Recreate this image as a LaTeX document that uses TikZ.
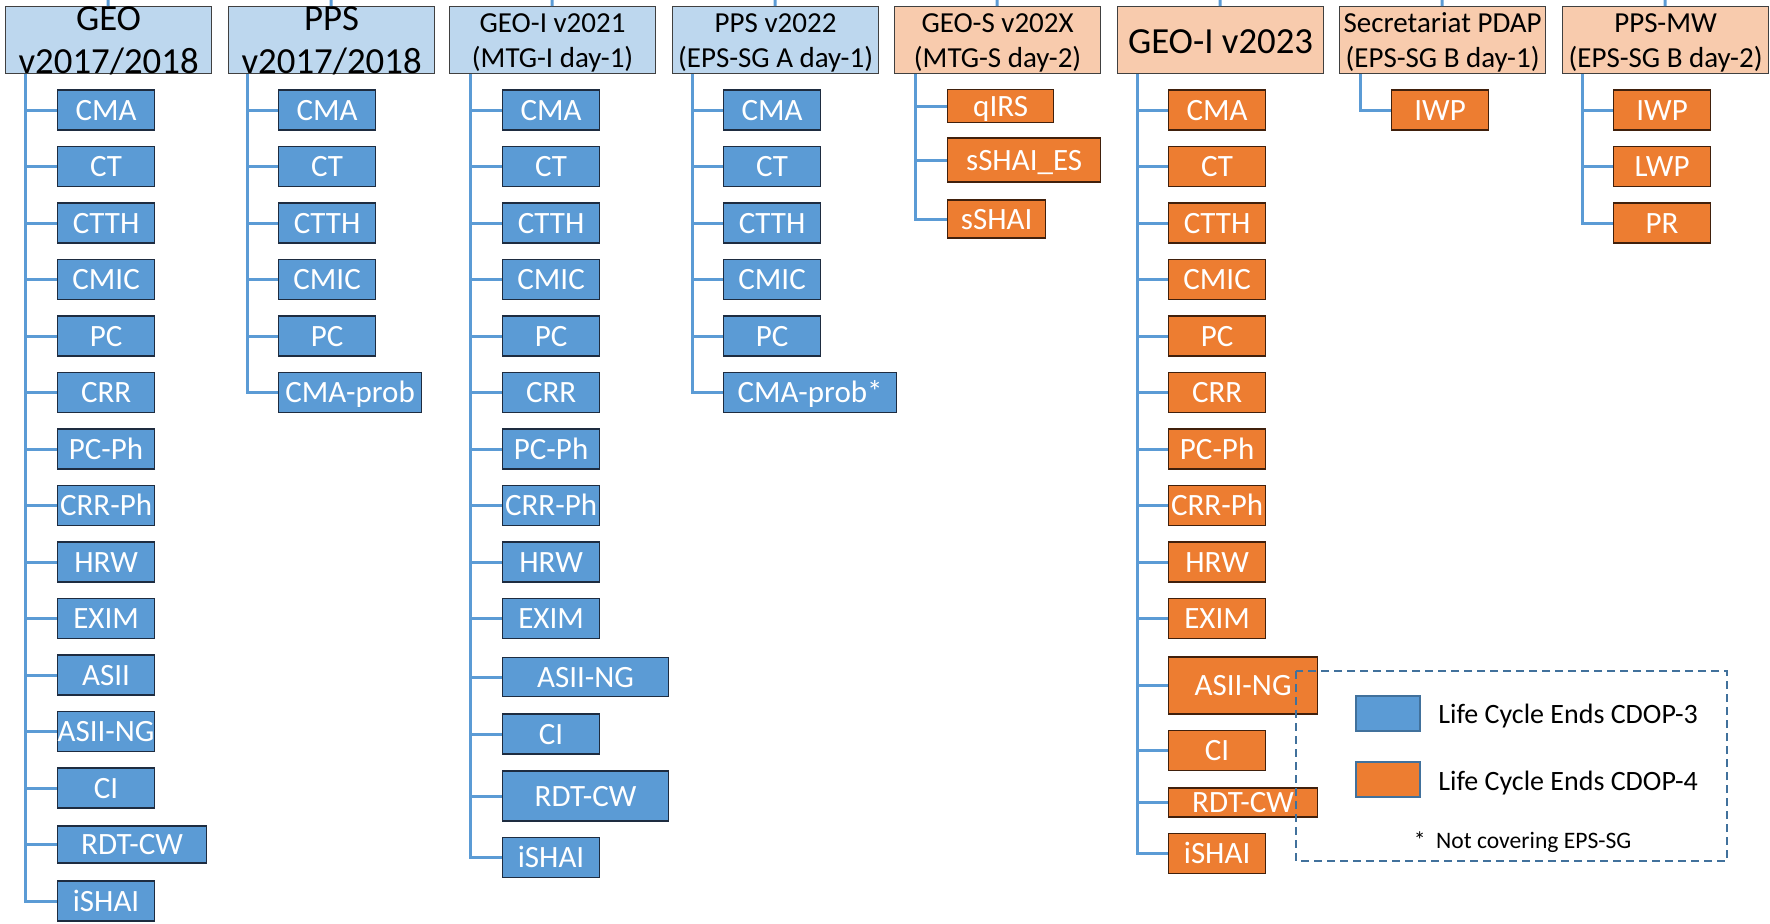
\documentclass[tikz,border=0pt]{standalone}
\usepackage{fontspec}
\setmainfont{Carlito}
\definecolor{linkblue}{HTML}{5B9BD5}
\definecolor{headblue}{HTML}{BDD7EE}
\definecolor{headorange}{HTML}{F8CBAD}
\definecolor{headedge}{HTML}{404040}
\definecolor{itemblue}{HTML}{5B9BD5}
\definecolor{itemorange}{HTML}{ED7D31}
\definecolor{blueedge}{HTML}{1E2C40}
\definecolor{orangeedge}{HTML}{40200C}
\definecolor{keyedge}{HTML}{41719C}
\tikzset{
  link/.style={draw=linkblue, line width=1.5pt},
  head/.style={draw=headedge, line width=0.6pt, anchor=north west, inner sep=0pt,
    minimum width=103pt, minimum height=33.5pt, align=center,
    font=\fontsize{14.5}{17.5}\selectfont, text height=30.5pt, text depth=3pt},
  headbig/.style={font=\fontsize{18.4}{21.5}\selectfont, text height=33.5pt, text depth=0pt},
  headone/.style={font=\fontsize{18.4}{21.5}\selectfont, text height=23.5pt, text depth=10pt},
  oldhead/.style={head, fill=headblue},
  newhead/.style={head, fill=headorange},
  item/.style={line width=0.6pt, text=white, anchor=west, inner sep=0pt,
    minimum width=48.5pt, minimum height=20pt, text height=10pt, text depth=0pt,
    font=\fontsize{15.5}{18}\selectfont},
  olditem/.style={item, draw=blueedge, fill=itemblue},
  newitem/.style={item, draw=orangeedge, fill=itemorange},
  keybox/.style={draw=keyedge, line width=1pt, anchor=west, inner sep=0pt,
    minimum width=32pt, minimum height=17.5pt},
  keytext/.style={anchor=base west, inner sep=0pt, font=\fontsize{14}{17}\selectfont},
}
\begin{document}
\begin{tikzpicture}[x=0.5pt, y=-0.5pt]
        \useasboundingbox (0,0) rectangle (1770,923);
        % headers
        \node[oldhead, headbig] (geoA) at (5,6) {GEO\\v2017/2018};
        \node[oldhead, headbig] (ppsA) at (228,6) {PPS\\v2017/2018};
        \node[oldhead] (geoI21) at (449,6) {GEO-I v2021\\(MTG-I day-1)};
        \node[oldhead] (pps22) at (672,6) {PPS v2022\\(EPS-SG A day-1)};
        \node[newhead] (geoS) at (894,6) {GEO-S v202X\\(MTG-S day-2)};
        \node[newhead, headone] (geoI23) at (1117,6) {GEO-I v2023};
        \node[newhead] (pdap) at (1339,6) {Secretariat PDAP\\(EPS-SG B day-1)};
        \node[newhead] (ppsmw) at (1562,6) {PPS-MW\\(EPS-SG B day-2)};
        \coordinate (geoA-top) at (108,0);
        \coordinate (ppsA-top) at (331,0);
        \coordinate (geoI21-top) at (552,0);
        \coordinate (pps22-top) at (775,0);
        \coordinate (geoS-top) at (997,0);
        \coordinate (geoI23-top) at (1220,0);
        \coordinate (pdap-top) at (1442,0);
        \coordinate (ppsmw-top) at (1665,0);
        \draw[link] (geoA-top) -- (geoA);
        \draw[link] (ppsA-top) -- (ppsA);
        \draw[link] (geoI21-top) -- (geoI21);
        \draw[link] (pps22-top) -- (pps22);
        \draw[link] (geoS-top) -- (geoS);
        \draw[link] (geoI23-top) -- (geoI23);
        \draw[link] (pdap-top) -- (pdap);
        \draw[link] (ppsmw-top) -- (ppsmw);
        % GEO v2017/2018
        \node[olditem] (geoA-CMA) at (57,110) {CMA};
        \node[olditem] (geoA-CT) at (57,166.5) {CT};
        \node[olditem] (geoA-CTTH) at (57,223) {CTTH};
        \node[olditem] (geoA-CMIC) at (57,279.5) {CMIC};
        \node[olditem] (geoA-PC) at (57,336) {PC};
        \node[olditem] (geoA-CRR) at (57,392.5) {CRR};
        \node[olditem] (geoA-PCPh) at (57,449) {PC-Ph};
        \node[olditem] (geoA-CRRPh) at (57,505.5) {CRR-Ph};
        \node[olditem] (geoA-HRW) at (57,562) {HRW};
        \node[olditem] (geoA-EXIM) at (57,618.5) {EXIM};
        \node[olditem] (geoA-ASII) at (57,675) {ASII};
        \node[olditem] (geoA-ASIING) at (57,731.5) {ASII-NG};
        \node[olditem] (geoA-CI) at (57,788) {CI};
        \node[olditem, minimum width=74.5pt, minimum height=18.5pt] (geoA-RDTCW) at (57,844.5) {RDT-CW};
        \node[olditem] (geoA-iSHAI) at (57,901) {iSHAI};
        \draw[link] ([xshift=10pt]geoA.south west) |- (geoA-CMA);
        \draw[link] ([xshift=10pt]geoA.south west) |- (geoA-CT);
        \draw[link] ([xshift=10pt]geoA.south west) |- (geoA-CTTH);
        \draw[link] ([xshift=10pt]geoA.south west) |- (geoA-CMIC);
        \draw[link] ([xshift=10pt]geoA.south west) |- (geoA-PC);
        \draw[link] ([xshift=10pt]geoA.south west) |- (geoA-CRR);
        \draw[link] ([xshift=10pt]geoA.south west) |- (geoA-PCPh);
        \draw[link] ([xshift=10pt]geoA.south west) |- (geoA-CRRPh);
        \draw[link] ([xshift=10pt]geoA.south west) |- (geoA-HRW);
        \draw[link] ([xshift=10pt]geoA.south west) |- (geoA-EXIM);
        \draw[link] ([xshift=10pt]geoA.south west) |- (geoA-ASII);
        \draw[link] ([xshift=10pt]geoA.south west) |- (geoA-ASIING);
        \draw[link] ([xshift=10pt]geoA.south west) |- (geoA-CI);
        \draw[link] ([xshift=10pt]geoA.south west) |- (geoA-RDTCW);
        \draw[link] ([xshift=10pt]geoA.south west) |- (geoA-iSHAI);
        % PPS v2017/2018
        \node[olditem] (ppsA-CMA) at (278,110) {CMA};
        \node[olditem] (ppsA-CT) at (278,166.5) {CT};
        \node[olditem] (ppsA-CTTH) at (278,223) {CTTH};
        \node[olditem] (ppsA-CMIC) at (278,279.5) {CMIC};
        \node[olditem] (ppsA-PC) at (278,336) {PC};
        \node[olditem, minimum width=71.5pt] (ppsA-CMAprob) at (278,392.5) {CMA-prob};
        \draw[link] ([xshift=9.5pt]ppsA.south west) |- (ppsA-CMA);
        \draw[link] ([xshift=9.5pt]ppsA.south west) |- (ppsA-CT);
        \draw[link] ([xshift=9.5pt]ppsA.south west) |- (ppsA-CTTH);
        \draw[link] ([xshift=9.5pt]ppsA.south west) |- (ppsA-CMIC);
        \draw[link] ([xshift=9.5pt]ppsA.south west) |- (ppsA-PC);
        \draw[link] ([xshift=9.5pt]ppsA.south west) |- (ppsA-CMAprob);
        % GEO-I v2021
        \node[olditem] (geoI21-CMA) at (502,110) {CMA};
        \node[olditem] (geoI21-CT) at (502,166.5) {CT};
        \node[olditem] (geoI21-CTTH) at (502,223) {CTTH};
        \node[olditem] (geoI21-CMIC) at (502,279.5) {CMIC};
        \node[olditem] (geoI21-PC) at (502,336) {PC};
        \node[olditem] (geoI21-CRR) at (502,392.5) {CRR};
        \node[olditem] (geoI21-PCPh) at (502,449) {PC-Ph};
        \node[olditem] (geoI21-CRRPh) at (502,505.5) {CRR-Ph};
        \node[olditem] (geoI21-HRW) at (502,562) {HRW};
        \node[olditem] (geoI21-EXIM) at (502,618.5) {EXIM};
        \node[olditem, minimum width=83pt, minimum height=19.5pt] (geoI21-ASIING) at (502,677) {ASII-NG};
        \node[olditem] (geoI21-CI) at (502,734) {CI};
        \node[olditem, minimum width=83pt, minimum height=25pt] (geoI21-RDTCW) at (502,796) {RDT-CW};
        \node[olditem] (geoI21-iSHAI) at (502,857.5) {iSHAI};
        \draw[link] ([xshift=10.5pt]geoI21.south west) |- (geoI21-CMA);
        \draw[link] ([xshift=10.5pt]geoI21.south west) |- (geoI21-CT);
        \draw[link] ([xshift=10.5pt]geoI21.south west) |- (geoI21-CTTH);
        \draw[link] ([xshift=10.5pt]geoI21.south west) |- (geoI21-CMIC);
        \draw[link] ([xshift=10.5pt]geoI21.south west) |- (geoI21-PC);
        \draw[link] ([xshift=10.5pt]geoI21.south west) |- (geoI21-CRR);
        \draw[link] ([xshift=10.5pt]geoI21.south west) |- (geoI21-PCPh);
        \draw[link] ([xshift=10.5pt]geoI21.south west) |- (geoI21-CRRPh);
        \draw[link] ([xshift=10.5pt]geoI21.south west) |- (geoI21-HRW);
        \draw[link] ([xshift=10.5pt]geoI21.south west) |- (geoI21-EXIM);
        \draw[link] ([xshift=10.5pt]geoI21.south west) |- (geoI21-ASIING);
        \draw[link] ([xshift=10.5pt]geoI21.south west) |- (geoI21-CI);
        \draw[link] ([xshift=10.5pt]geoI21.south west) |- (geoI21-RDTCW);
        \draw[link] ([xshift=10.5pt]geoI21.south west) |- (geoI21-iSHAI);
        % PPS v2022
        \node[olditem] (pps22-CMA) at (723,110) {CMA};
        \node[olditem] (pps22-CT) at (723,166.5) {CT};
        \node[olditem] (pps22-CTTH) at (723,223) {CTTH};
        \node[olditem] (pps22-CMIC) at (723,279.5) {CMIC};
        \node[olditem] (pps22-PC) at (723,336) {PC};
        \node[olditem, minimum width=86.5pt] (pps22-CMAprob) at (723,392.5) {CMA-prob*};
        \draw[link] ([xshift=10pt]pps22.south west) |- (pps22-CMA);
        \draw[link] ([xshift=10pt]pps22.south west) |- (pps22-CT);
        \draw[link] ([xshift=10pt]pps22.south west) |- (pps22-CTTH);
        \draw[link] ([xshift=10pt]pps22.south west) |- (pps22-CMIC);
        \draw[link] ([xshift=10pt]pps22.south west) |- (pps22-PC);
        \draw[link] ([xshift=10pt]pps22.south west) |- (pps22-CMAprob);
        % GEO-S v202X
        \node[newitem, minimum width=53pt, minimum height=16.5pt] (geoS-qIRS) at (947,106) {qIRS};
        \node[newitem, minimum width=76.5pt, minimum height=22pt] (geoS-sSHAIES) at (947,160) {sSHAI\_ES};
        \node[newitem, minimum width=49pt, minimum height=19pt] (geoS-sSHAI) at (947,219) {sSHAI};
        \draw[link] ([xshift=10.5pt]geoS.south west) |- (geoS-qIRS);
        \draw[link] ([xshift=10.5pt]geoS.south west) |- (geoS-sSHAIES);
        \draw[link] ([xshift=10.5pt]geoS.south west) |- (geoS-sSHAI);
        % GEO-I v2023
        \node[newitem] (geoI23-CMA) at (1168,110) {CMA};
        \node[newitem] (geoI23-CT) at (1168,166.5) {CT};
        \node[newitem] (geoI23-CTTH) at (1168,223) {CTTH};
        \node[newitem] (geoI23-CMIC) at (1168,279.5) {CMIC};
        \node[newitem] (geoI23-PC) at (1168,336) {PC};
        \node[newitem] (geoI23-CRR) at (1168,392.5) {CRR};
        \node[newitem] (geoI23-PCPh) at (1168,449) {PC-Ph};
        \node[newitem] (geoI23-CRRPh) at (1168,505.5) {CRR-Ph};
        \node[newitem] (geoI23-HRW) at (1168,562) {HRW};
        \node[newitem] (geoI23-EXIM) at (1168,618.5) {EXIM};
        \node[newitem, minimum width=74.5pt, minimum height=28.5pt] (geoI23-ASIING) at (1168,685.5) {ASII-NG};
        \node[newitem] (geoI23-CI) at (1168,750.5) {CI};
        \node[newitem, minimum width=74.5pt, minimum height=14.5pt] (geoI23-RDTCW) at (1168,802.5) {RDT-CW};
        \node[newitem] (geoI23-iSHAI) at (1168,853.5) {iSHAI};
        \draw[link] ([xshift=10pt]geoI23.south west) |- (geoI23-CMA);
        \draw[link] ([xshift=10pt]geoI23.south west) |- (geoI23-CT);
        \draw[link] ([xshift=10pt]geoI23.south west) |- (geoI23-CTTH);
        \draw[link] ([xshift=10pt]geoI23.south west) |- (geoI23-CMIC);
        \draw[link] ([xshift=10pt]geoI23.south west) |- (geoI23-PC);
        \draw[link] ([xshift=10pt]geoI23.south west) |- (geoI23-CRR);
        \draw[link] ([xshift=10pt]geoI23.south west) |- (geoI23-PCPh);
        \draw[link] ([xshift=10pt]geoI23.south west) |- (geoI23-CRRPh);
        \draw[link] ([xshift=10pt]geoI23.south west) |- (geoI23-HRW);
        \draw[link] ([xshift=10pt]geoI23.south west) |- (geoI23-EXIM);
        \draw[link] ([xshift=10pt]geoI23.south west) |- (geoI23-ASIING);
        \draw[link] ([xshift=10pt]geoI23.south west) |- (geoI23-CI);
        \draw[link] ([xshift=10pt]geoI23.south west) |- (geoI23-RDTCW);
        \draw[link] ([xshift=10pt]geoI23.south west) |- (geoI23-iSHAI);
        % Secretariat PDAP
        \node[newitem] (pdap-IWP) at (1391,110) {IWP};
        \draw[link] ([xshift=10.5pt]pdap.south west) |- (pdap-IWP);
        % PPS-MW
        \node[newitem] (ppsmw-IWP) at (1613,110) {IWP};
        \node[newitem] (ppsmw-LWP) at (1613,166.5) {LWP};
        \node[newitem] (ppsmw-PR) at (1613,223) {PR};
        \draw[link] ([xshift=10pt]ppsmw.south west) |- (ppsmw-IWP);
        \draw[link] ([xshift=10pt]ppsmw.south west) |- (ppsmw-LWP);
        \draw[link] ([xshift=10pt]ppsmw.south west) |- (ppsmw-PR);
        % legend
        \draw[keyedge, line width=1pt, dash pattern=on 4pt off 2.5pt] (1296,671) rectangle (1727,861);
        \node[keybox, fill=itemblue] (keyA) at (1355,713.5) {};
        \node[keybox, fill=itemorange] (keyB) at (1355,779.5) {};
        \node[keytext] (keyA-text) at (1438,723) {Life Cycle Ends CDOP-3};
        \node[keytext] (keyB-text) at (1438,790) {Life Cycle Ends CDOP-4};
        \node[font=\fontsize{11.8}{14}\selectfont, inner sep=0pt] (note) at (1522.5,842) {*~ Not covering EPS-SG};
\end{tikzpicture}
\end{document}
